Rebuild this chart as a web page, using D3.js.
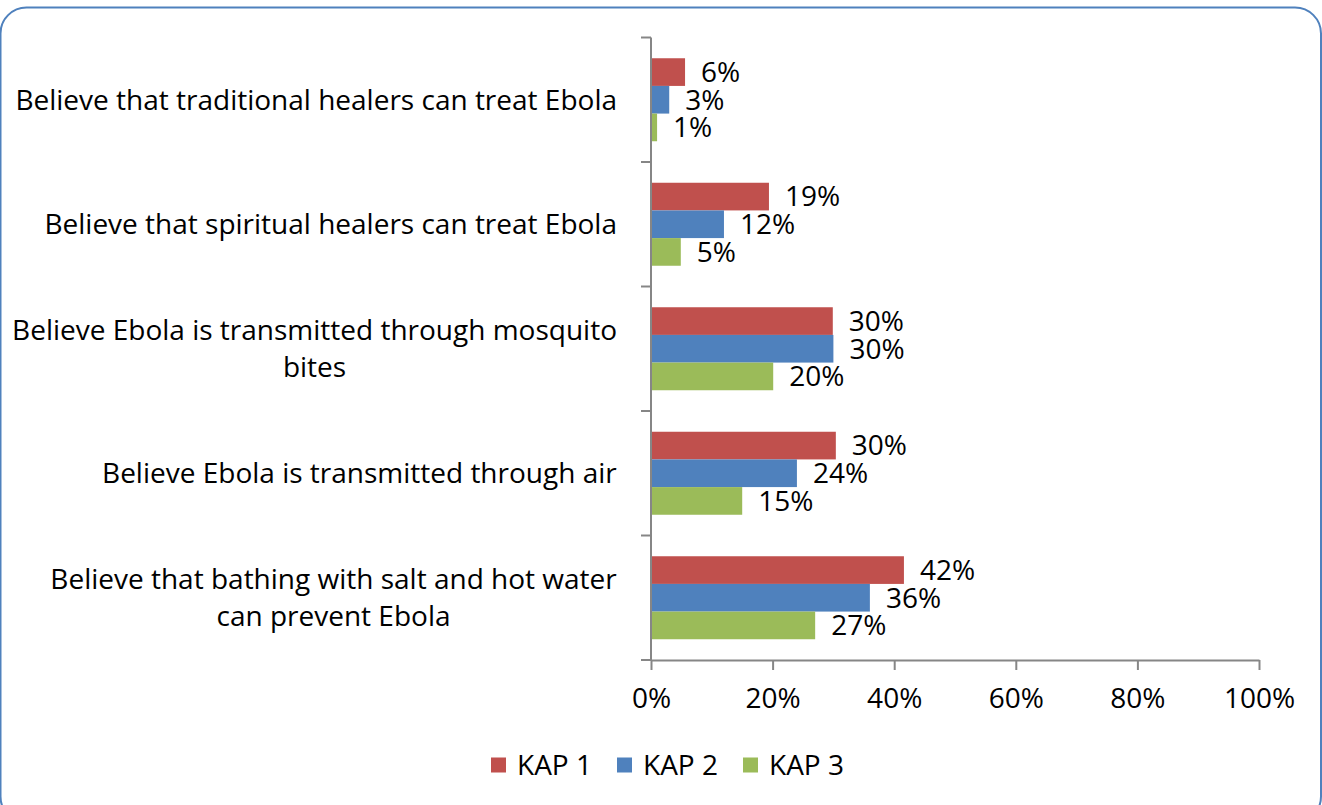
<!DOCTYPE html>
<html>
<head>
<meta charset="utf-8">
<script src="https://cdn.jsdelivr.net/npm/d3@7/dist/d3.min.js"></script>
<style>
  html, body { margin: 0; padding: 0; background: #fff; }
  svg { display: block; }
  text { font-family: "Open Sans", Lato, sans-serif; fill: #000; }
</style>
</head>
<body>
<svg id="chart" width="1322" height="805"></svg>
<script>
// Survey statements, top to bottom, with their display lines
const categories = [
  "Believe that traditional healers can treat Ebola",
  "Believe that spiritual healers can treat Ebola",
  "Believe Ebola is transmitted through mosquito bites",
  "Believe Ebola is transmitted through air",
  "Believe that bathing with salt and hot water can prevent Ebola"
];
const categoryLines = [
  ["Believe that traditional healers can treat Ebola"],
  ["Believe that spiritual healers can treat Ebola"],
  ["Believe Ebola is transmitted through mosquito", "bites"],
  ["Believe Ebola is transmitted through air"],
  ["Believe that bathing with salt and hot water", "can prevent Ebola"]
];

const series = ["KAP 1", "KAP 2", "KAP 3"];
const colors = ["#C0504D", "#4F81BD", "#9BBB59"];

// Percent of respondents per survey round
const kap1 = [5.6, 19.4, 29.9, 30.4, 41.6];
const kap2 = [3.0, 12.0, 30.0, 24.0, 36.0];
const kap3 = [1.0, 4.9, 20.1, 15.0, 27.0];
const seriesValues = [kap1, kap2, kap3];

const xTicks = [0, 20, 40, 60, 80, 100];

const svg = d3.select("#chart");
const W = 1322, H = 805;
const axisColor = "#868686";
const fontSize = 28;

// Rounded frame
svg.append("rect")
  .attr("x", 0.5).attr("y", 7.5)
  .attr("width", W - 1.5).attr("height", H + 10)
  .attr("rx", 26).attr("ry", 26)
  .attr("fill", "#fff")
  .attr("stroke", "#4F81BD")
  .attr("stroke-width", 2);

const plot = { left: 651, right: 1259, top: 37.5, bottom: 660 };

const x = d3.scaleLinear().domain([0, 100]).range([plot.left, plot.right]);
const y0 = d3.scaleBand().domain(categories).range([plot.top, plot.bottom]).paddingInner(0).paddingOuter(0);
const y1 = d3.scaleBand().domain(series).range([0, y0.bandwidth()]).paddingInner(0).paddingOuter(0.75);

const rows = categories.map((c, i) => ({
  cat: c,
  lines: categoryLines[i],
  vals: series.map((s, j) => ({ s, j, v: seriesValues[j][i] }))
}));

// Bars
const groups = svg.append("g").selectAll("g.cat")
  .data(rows).join("g")
  .attr("class", "cat")
  .attr("transform", d => `translate(0,${y0(d.cat)})`);

groups.selectAll("rect")
  .data(d => d.vals).join("rect")
  .attr("x", x(0))
  .attr("y", d => y1(d.s))
  .attr("width", d => x(d.v) - x(0))
  .attr("height", y1.bandwidth())
  .attr("fill", d => colors[d.j]);

// Value labels
groups.selectAll("text.val")
  .data(d => d.vals).join("text")
  .attr("class", "val")
  .attr("x", d => x(d.v) + 16)
  .attr("y", d => y1(d.s) + y1.bandwidth() / 2)
  .attr("dy", "0.35em")
  .attr("font-size", fontSize)
  .text(d => Math.round(d.v) + "%");

// Category labels (multi-line blocks centred on each other, right-aligned to the axis)
const lineH = 37;
const labelRight = 617;
groups.each(function (d) {
  const g = d3.select(this);
  const t = g.append("text")
    .attr("font-size", fontSize)
    .attr("text-anchor", "middle");
  const n = d.lines.length;
  d.lines.forEach((ln, k) => {
    t.append("tspan")
      .attr("x", 0)
      .attr("y", y0.bandwidth() / 2 + (k - (n - 1) / 2) * lineH)
      .attr("dy", "0.35em")
      .text(ln);
  });
  const w = t.node().getBBox().width;
  t.attr("transform", `translate(${labelRight - w / 2},0)`);
});

// Y axis line and category boundary ticks
const bounds = categories.map(c => y0(c)).concat([plot.bottom]);
const yAxis = svg.append("g").attr("stroke", axisColor).attr("stroke-width", 2);
yAxis.append("line")
  .attr("x1", plot.left).attr("x2", plot.left)
  .attr("y1", plot.top).attr("y2", plot.bottom);
yAxis.selectAll("line.tk").data(bounds).join("line")
  .attr("class", "tk")
  .attr("x1", plot.left - 10).attr("x2", plot.left)
  .attr("y1", d => d).attr("y2", d => d);

// X axis
const xAxis = svg.append("g")
  .attr("transform", `translate(0,${plot.bottom})`)
  .call(d3.axisBottom(x).tickValues(xTicks).tickSize(10).tickSizeOuter(0).tickPadding(18)
    .tickFormat(d => d + "%"));
xAxis.select(".domain").attr("stroke", axisColor).attr("stroke-width", 2);
xAxis.selectAll(".tick line").attr("stroke", axisColor).attr("stroke-width", 2);
xAxis.selectAll(".tick text")
  .attr("font-size", fontSize)
  .attr("font-family", "'Open Sans', Lato, sans-serif")
  .attr("fill", "#000");

// Legend
const legendX = [491, 617, 743];
const legendY = 765;
const legend = svg.append("g").selectAll("g")
  .data(series).join("g")
  .attr("transform", (d, i) => `translate(${legendX[i]},${legendY})`);
legend.append("rect")
  .attr("x", 0).attr("y", -7.5)
  .attr("width", 15).attr("height", 15)
  .attr("fill", (d, i) => colors[i]);
legend.append("text")
  .attr("x", 26).attr("y", 0)
  .attr("dy", "0.35em")
  .attr("font-size", fontSize)
  .text(d => d);
</script>
</body>
</html>
